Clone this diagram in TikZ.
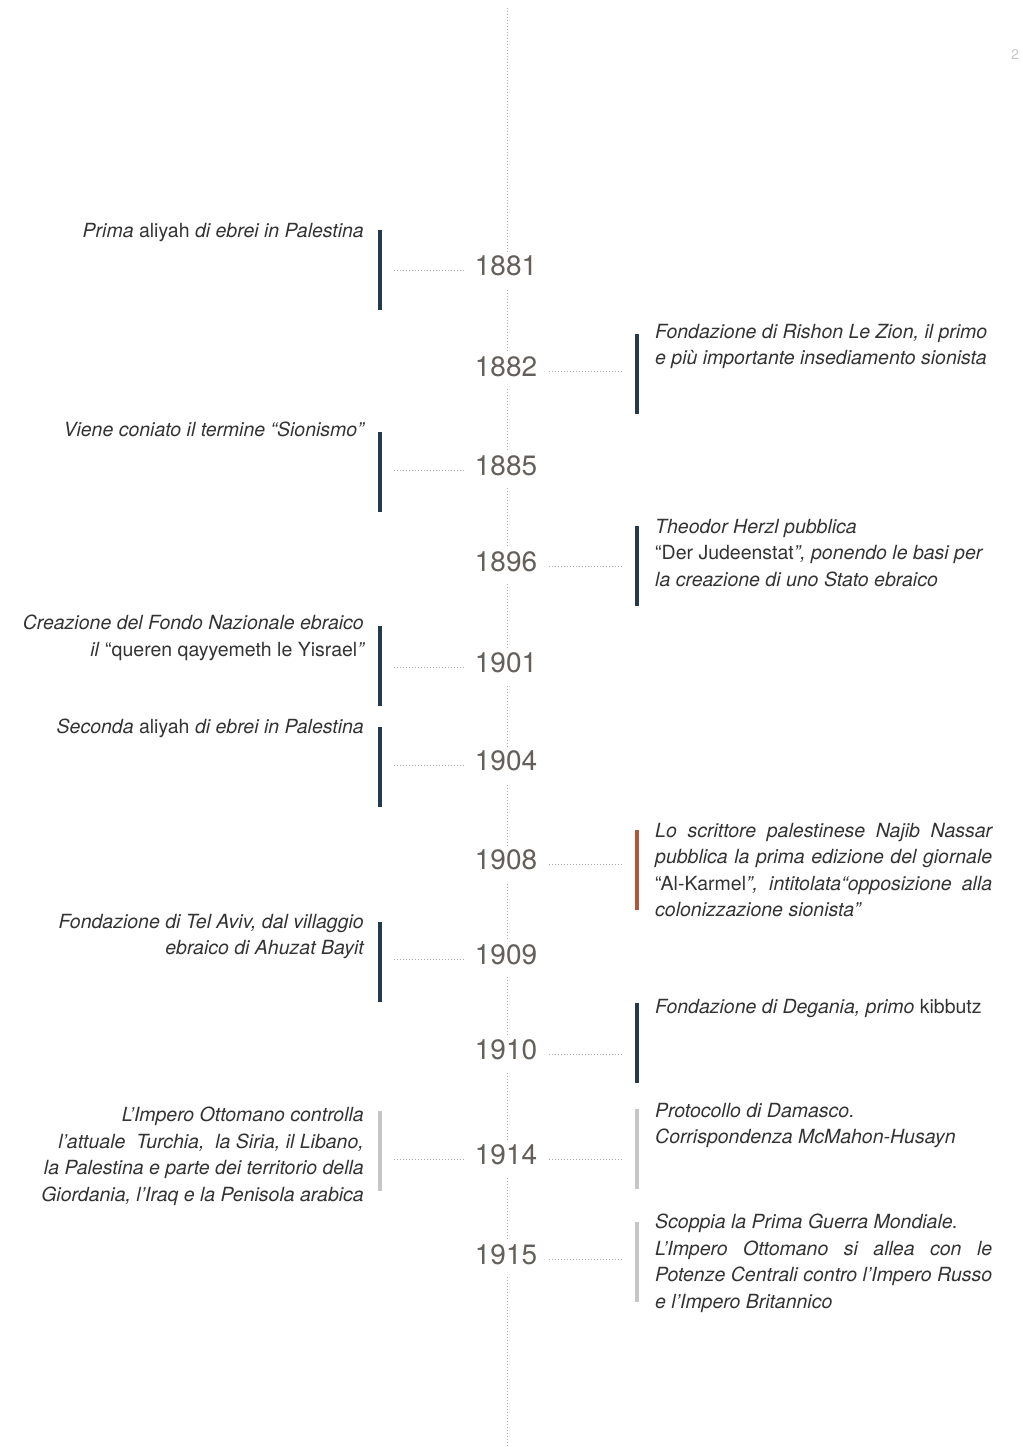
\documentclass[tikz,border=0pt]{standalone}
\usepackage{fontspec}
\setmainfont{TeX Gyre Heros}
\usetikzlibrary{calc}
\definecolor{navy}{HTML}{233A4B}
\definecolor{rust}{HTML}{B0563B}
\definecolor{lgrey}{HTML}{C6C6C6}
\definecolor{yeargrey}{HTML}{645F5A}
\definecolor{txt}{HTML}{333333}
\definecolor{dotgrey}{HTML}{A8A8A8}
\newcommand{\jline}[1]{\makebox[337pt][s]{#1}}
\begin{document}
\begin{tikzpicture}[x=1pt,y=-1pt,
  year/.style={fill=white, text=yeargrey, font=\fontsize{28}{28}\selectfont, inner xsep=0pt, inner ysep=3pt, text height=20pt, text depth=10pt, anchor=base},
  ltext/.style={anchor=north east, inner sep=0pt, align=right, text=txt, font=\fontsize{19.5}{26.5}\selectfont\itshape},
  rtext/.style={anchor=north west, inner sep=0pt, align=left, text=txt, font=\fontsize{19.5}{26.5}\selectfont\itshape},
  bar/.style={inner sep=0pt, minimum width=4pt, minimum height=80pt, fill=navy},
  conn/.style={draw=dotgrey, line width=0.9pt, dash pattern=on 0.9pt off 2.1pt},
  axis/.style={draw=dotgrey, line width=0.9pt, dash pattern=on 0.9pt off 2.1pt}]
\fill[white] (0,0) rectangle (1022,1447);
\useasboundingbox (0,0) rectangle (1022,1447);

% page number
\node[text=lgrey, font=\fontsize{14}{14}\selectfont, inner sep=0pt] (pg) at (1015,55) {2};

% central axis
\coordinate (axtop) at (507,8);
\coordinate (axbot) at (507,1447);
\draw[axis] (axtop) -- (axbot);

% years
\node[year] (y1881) at (506,275) {1881};
\node[year] (y1882) at (506,376) {1882};
\node[year] (y1885) at (506,475) {1885};
\node[year] (y1896) at (506,571) {1896};
\node[year] (y1901) at (506,672) {1901};
\node[year] (y1904) at (506,770) {1904};
\node[year] (y1908) at (506,869) {1908};
\node[year] (y1909) at (506,964) {1909};
\node[year] (y1910) at (506,1059) {1910};
\node[year] (y1914) at (506,1164) {1914};
\node[year] (y1915) at (506,1264) {1915};

% bars
\node[bar] (b1881) at (380,270) {};
\node[bar] (b1882) at (637,374) {};
\node[bar] (b1885) at (380,472) {};
\node[bar] (b1896) at (637,566) {};
\node[bar] (b1901) at (380,666) {};
\node[bar] (b1904) at (380,767) {};
\node[bar, fill=rust] (b1908) at (637,870) {};
\node[bar] (b1909) at (380,962) {};
\node[bar] (b1910) at (637,1043) {};
\node[bar, fill=lgrey] (b1914l) at (380,1151) {};
\node[bar, fill=lgrey] (b1914r) at (637,1149) {};
\node[bar, fill=lgrey] (b1915) at (637,1262) {};

% texts
\node[ltext] (t1881) at (364,223) {Prima \textup{aliyah} di ebrei in Palestina};
\node[rtext] (t1882) at (655,324) {Fondazione di Rishon Le Zion, il primo\\e più importante insediamento sionista};
\node[ltext] (t1885) at (364,422) {Viene coniato il termine “Sionismo”};
\node[rtext] (t1896) at (655,519) {Theodor Herzl pubblica\\\textup{“Der Judeenstat}”, ponendo le basi per\\la creazione di uno Stato ebraico};
\node[ltext] (t1901) at (364,615) {Creazione del Fondo Nazionale ebraico\\il \textup{“queren qayyemeth le Yisrael}”};
\node[ltext] (t1904) at (364,719) {Seconda \textup{aliyah} di ebrei in Palestina};
\node[rtext] (t1908) at (655,823) {\jline{Lo scrittore palestinese Najib Nassar}\\\jline{pubblica la prima edizione del giornale}\\\jline{\textup{“Al-Karmel}”, intitolata“opposizione alla}\\colonizzazione sionista”};
\node[ltext] (t1909) at (364,914) {Fondazione di Tel Aviv, dal villaggio\\ebraico di Ahuzat Bayit};
\node[rtext] (t1910) at (655,999) {Fondazione di Degania, primo \textup{kibbutz}};
\node[ltext] (t1914l) at (364,1107) {L’Impero Ottomano controlla\\l’attuale \ Turchia, \ la Siria, il Libano,\\la Palestina e parte dei territorio della\\Giordania, l’Iraq e la Penisola arabica};
\node[rtext] (t1914r) at (655,1103) {Protocollo di Damasco.\\Corrispondenza McMahon-Husayn};
\node[rtext] (t1915) at (655,1214) {Scoppia la Prima Guerra Mondiale.\\\jline{L’Impero Ottomano si allea con le}\\\jline{Potenze Centrali contro l’Impero Russo}\\e l’Impero Britannico};

% left connectors
\foreach \y/\b in {1881/1881,1885/1885,1901/1901,1904/1904,1909/1909,1914/1914l}{
  \draw[conn] ($(b\b.east |- y\y.base west)+(12,-5)$) -- ($(y\y.base west)+(-9,-5)$);
}
% right connectors
\foreach \y/\b in {1882/1882,1896/1896,1908/1908,1910/1910,1914/1914r,1915/1915}{
  \draw[conn] ($(y\y.base east)+(12,-5)$) -- ($(b\b.west |- y\y.base east)+(-13,-5)$);
}
\end{tikzpicture}
\end{document}
